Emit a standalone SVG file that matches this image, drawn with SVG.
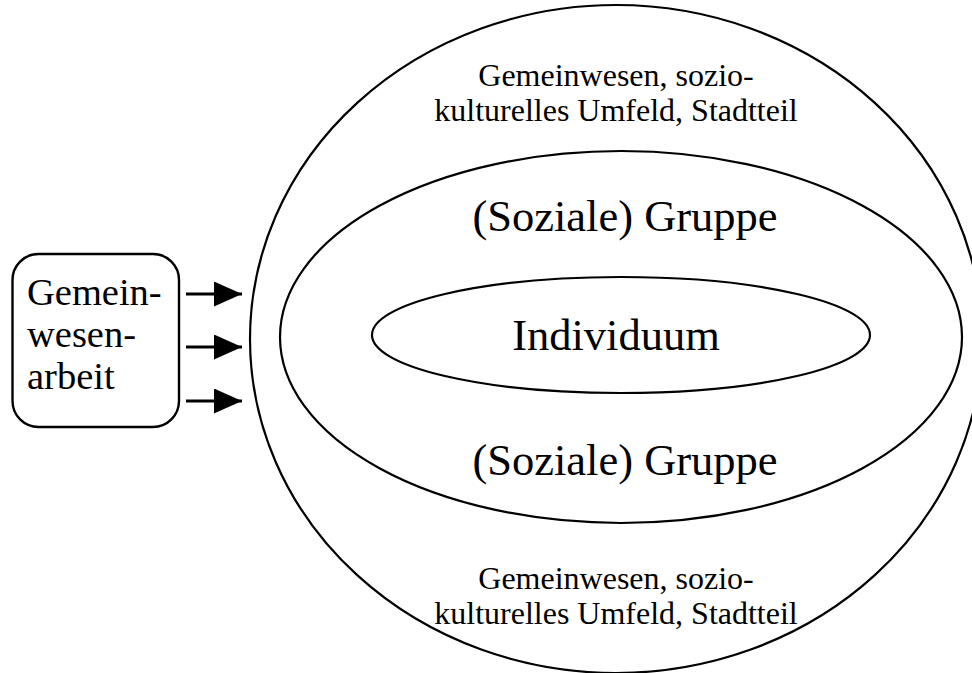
<svg xmlns="http://www.w3.org/2000/svg" width="972" height="673" viewBox="0 0 972 673">
  <style>
    .ring { fill: none; stroke: #000; stroke-width: 2.2; }
    .box { fill: #fff; stroke: #000; stroke-width: 2.4; }
    .lbl { font-family: "Liberation Serif", "Times New Roman", serif; fill: #000; }
    .mid { text-anchor: middle; }
    .edge { stroke: #000; stroke-width: 3; fill: none; }
  </style>
  <defs>
    <marker id="arrow" markerUnits="userSpaceOnUse" markerWidth="30" markerHeight="26" refX="28" refY="12.5" orient="auto">
      <path d="M0,0 L28,12.5 L0,25 Z" fill="#000"/>
    </marker>
  </defs>
  <rect width="972" height="673" fill="#fff"/>

  <!-- community / neighbourhood -->
  <g id="gemeinwesen">
    <ellipse class="ring" cx="616" cy="339" rx="366" ry="334"/>
    <text class="lbl mid" x="616" y="86" font-size="32">Gemeinwesen, sozio-</text>
    <text class="lbl mid" x="616" y="121" font-size="32">kulturelles Umfeld, Stadtteil</text>
    <text class="lbl mid" x="616" y="589" font-size="32">Gemeinwesen, sozio-</text>
    <text class="lbl mid" x="616" y="624" font-size="32">kulturelles Umfeld, Stadtteil</text>
  </g>

  <!-- social group -->
  <g id="gruppe">
    <ellipse class="ring" cx="621" cy="337" rx="341" ry="186"/>
    <text class="lbl mid" x="625" y="231" font-size="44.5">(Soziale) Gruppe</text>
    <text class="lbl mid" x="625" y="475" font-size="44.5">(Soziale) Gruppe</text>
  </g>

  <!-- individual -->
  <g id="individuum">
    <ellipse class="ring" cx="621" cy="335" rx="249" ry="58"/>
    <text class="lbl mid" x="616" y="350" font-size="44.5">Individuum</text>
  </g>

  <!-- community work -->
  <g id="gemeinwesenarbeit">
    <rect class="box" x="12.5" y="254" width="166.5" height="173" rx="26" ry="26"/>
    <text class="lbl" x="27" y="305" font-size="38.5">Gemein-</text>
    <text class="lbl" x="27" y="347" font-size="38.5">wesen-</text>
    <text class="lbl" x="27" y="389" font-size="38.5">arbeit</text>
  </g>

  <g id="connectors">
    <line class="edge" x1="186" y1="294" x2="242" y2="294" marker-end="url(#arrow)"/>
    <line class="edge" x1="186" y1="347" x2="242" y2="347" marker-end="url(#arrow)"/>
    <line class="edge" x1="186" y1="401" x2="242" y2="401" marker-end="url(#arrow)"/>
  </g>
</svg>
